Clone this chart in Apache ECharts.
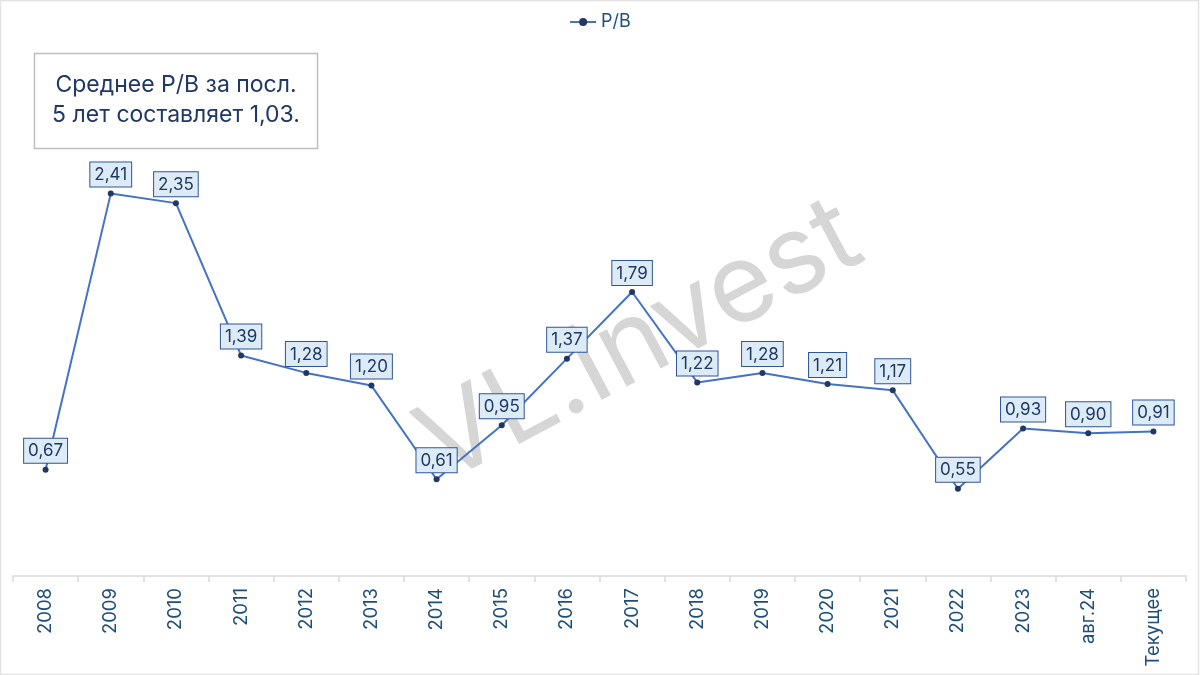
<!DOCTYPE html>
<html>
<head>
<meta charset="utf-8">
<script src="https://cdn.jsdelivr.net/npm/echarts@6/dist/echarts.min.js"></script>
<style>
html,body{margin:0;padding:0;background:#fff;}
#chart{width:1200px;height:675px;}
</style>
</head>
<body>
<div id="chart"></div>
<script>
const categories = ['2008','2009','2010','2011','2012','2013','2014','2015','2016','2017','2018','2019','2020','2021','2022','2023','авг.24','Текущее'];
const pbValues = [0.67, 2.41, 2.35, 1.39, 1.28, 1.20, 0.61, 0.95, 1.37, 1.79, 1.22, 1.28, 1.21, 1.17, 0.55, 0.93, 0.90, 0.91];
const seriesName = 'P/B';
const noteLines = ['Среднее P/B за посл.', '5 лет составляет 1,03.'];
const watermark = 'VL.Invest';

const FONT = 'Inter, "Open Sans", sans-serif';
const chart = echarts.init(document.getElementById('chart'), null, {renderer: 'canvas'});
chart.setOption({
  backgroundColor: '#ffffff',
  animation: false,
  textStyle: {fontFamily: FONT},
  legend: {
    top: 8,
    left: 'center',
    itemWidth: 26,
    itemHeight: 10,
    itemGap: 4,
    textStyle: {fontSize: 18, color: '#1F4E79', fontFamily: FONT},
    data: [seriesName]
  },
  grid: {left: 13, right: 14, top: 100, bottom: 99, containLabel: false},
  xAxis: {
    type: 'category',
    data: categories,
    boundaryGap: true,
    axisLine: {show: true, lineStyle: {color: '#d9d9d9', width: 1.5}},
    axisTick: {show: true, alignWithLabel: false, length: 6, lineStyle: {color: '#d9d9d9', width: 1.5}},
    axisLabel: {rotate: 90, margin: 12, fontSize: 18.5, color: '#1F4E79', fontFamily: FONT, interval: 0}
  },
  yAxis: {
    type: 'value', min: 0, max: 3,
    show: false,
    splitLine: {show: false}
  },
  graphic: [
    {type: 'rect', z: -10, silent: true,
     shape: {x: 0.5, y: 0.5, width: 1198, height: 674},
     style: {fill: 'none', stroke: '#e3e3e3', lineWidth: 1.5}},
    {type: 'text', z: 0, silent: true,
     x: 640, y: 342, rotation: 28 * Math.PI / 180,
     style: {text: watermark, fill: '#d6d6d6', fontSize: 110, fontFamily: FONT, fontWeight: 400,
             textAlign: 'center', textVerticalAlign: 'middle'}},
    {type: 'rect', z: 5, silent: true,
     shape: {x: 34.5, y: 53.5, width: 283, height: 95},
     style: {fill: '#ffffff', stroke: '#bfbfbf', lineWidth: 1.5}},
    {type: 'text', z: 6, silent: true,
     x: 176, y: 100,
     style: {text: noteLines.join('\n'), fill: '#1F3864', fontSize: 23, lineHeight: 30,
             fontFamily: FONT, textAlign: 'center', textVerticalAlign: 'middle'}}
  ],
  series: [{
    name: seriesName,
    type: 'line',
    data: pbValues,
    z: 3,
    symbol: 'circle',
    symbolSize: 6,
    lineStyle: {color: '#4472C4', width: 2},
    itemStyle: {color: '#1F3864'},
    label: {
      show: true,
      position: 'top',
      distance: 4,
      formatter: p => p.value.toFixed(2).replace('.', ','),
      fontSize: 17,
      color: '#1F3864',
      fontFamily: FONT,
      backgroundColor: '#DDEBF7',
      borderColor: '#2F5597',
      borderWidth: 1,
      padding: [4, 4, 3, 4]
    }
  }]
});
</script>
</body>
</html>
